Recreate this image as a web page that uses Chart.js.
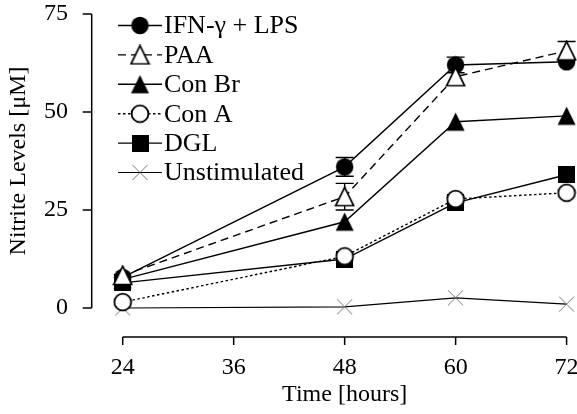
<!DOCTYPE html>
<html><head><meta charset="utf-8">
<script src="https://cdn.jsdelivr.net/npm/chart.js@4"></script>
<style>html,body{margin:0;padding:0;background:#fff;}#wrap{width:577px;height:414px;}</style>
</head><body><div id="wrap"><canvas id="c" width="577" height="414"></canvas></div>
<script>
// ---- data ----
const hours = [24, 48, 60, 72];
const xTicks = [24, 36, 48, 60, 72];
const yTicks = [0, 25, 50, 75];
const seriesNames = ['IFN-\u03b3 + LPS', 'PAA', 'Con Br', 'Con A', 'DGL', 'Unstimulated'];
const ifnLps = [7.8, 36, 62, 62.8];
const ifnLpsErr = [0, 2.4, 2.0, 0];
const paa = [8.3, 28.4, 59, 65.6];
const paaErr = [0, 3.4, 0, 2.4];
const conBr = [7.3, 22, 47.5, 49];
const conA = [1.5, 13.2, 27.8, 29.4];
const dgl = [6.4, 12.5, 26.8, 34];
const unstim = [0, 0.3, 2.6, 1];

const FONT = '"Liberation Serif", "Times New Roman", serif';

// ---- marker images ----
function mk(w, h, draw) { const c = document.createElement('canvas'); c.width = w; c.height = h; const g = c.getContext('2d'); draw(g, w, h); return c; }
const mFilledCircle = mk(19, 19, g => { g.beginPath(); g.arc(9.5, 9.5, 8.7, 0, Math.PI * 2); g.fillStyle = '#000'; g.fill(); });
const mOpenCircle = mk(20, 20, g => { g.beginPath(); g.arc(10, 10, 8.4, 0, Math.PI * 2); g.fillStyle = '#fff'; g.fill(); g.lineWidth = 1.8; g.strokeStyle = '#000'; g.stroke(); });
const mSquare = mk(17, 17, g => { g.fillStyle = '#000'; g.fillRect(0, 0, 17, 17); });
function tri(fill) {
  return mk(21, 21, g => { g.beginPath(); g.moveTo(10.5, 1.2); g.lineTo(1.5, 19.5); g.lineTo(19.5, 19.5); g.closePath();
    if (fill) { g.fillStyle = '#000'; g.fill(); } else { g.fillStyle = '#fff'; g.fill(); g.lineWidth = 1.7; g.strokeStyle = '#000'; g.stroke(); } });
}
const mOpenTri = tri(false), mFilledTri = tri(true);
const mStar = mk(19, 19, g => { g.strokeStyle = '#777'; g.lineWidth = 1; g.beginPath(); g.moveTo(2, 2); g.lineTo(17, 17); g.moveTo(17, 2); g.lineTo(2, 17); g.stroke(); });

function ds(label, data, style, dash, order, bw) {
  return { label, data: hours.map((h, i) => ({ x: h, y: data[i] })), pointStyle: style, pointRadius: 9, borderColor: '#000', backgroundColor: '#000',
    borderWidth: bw || 1.4, borderDash: dash, showLine: true, tension: 0, clip: false, order };
}
const datasets = [
  ds(seriesNames[0], ifnLps, mFilledCircle, [], 1),
  ds(seriesNames[1], paa, mOpenTri, [8, 5], 0),
  ds(seriesNames[2], conBr, mFilledTri, [], 2),
  ds(seriesNames[3], conA, mOpenCircle, [2.5, 2.5], 3),
  ds(seriesNames[4], dgl, mSquare, [], 4),
  ds(seriesNames[5], unstim, mStar, [], 5, 1.2)
];
const errors = { 0: ifnLpsErr, 1: paaErr };

const axesPlugin = {
  id: 'axesLines',
  beforeDatasetsDraw(chart) {
    const { ctx, scales: { x, y } } = chart;
    ctx.save(); ctx.strokeStyle = '#000'; ctx.lineWidth = 1.5;
    const ax = x.getPixelForValue(xTicks[0]) - 31;
    const ay = y.getPixelForValue(yTicks[0]) + 29;
    ctx.beginPath();
    ctx.moveTo(ax, y.getPixelForValue(yTicks[yTicks.length - 1])); ctx.lineTo(ax, y.getPixelForValue(yTicks[0]));
    yTicks.forEach(v => { const p = y.getPixelForValue(v); ctx.moveTo(ax - 9, p); ctx.lineTo(ax, p); });
    ctx.moveTo(x.getPixelForValue(xTicks[0]), ay); ctx.lineTo(x.getPixelForValue(xTicks[xTicks.length - 1]), ay);
    xTicks.forEach(v => { const p = x.getPixelForValue(v); ctx.moveTo(p, ay); ctx.lineTo(p, ay + 8); });
    ctx.stroke();
    // error bars
    ctx.lineWidth = 1.4;
    Object.keys(errors).forEach(k => {
      const src = chart.data.datasets[k].data;
      errors[k].forEach((e, i) => {
        if (!e) return;
        const px = x.getPixelForValue(src[i].x);
        const t = y.getPixelForValue(src[i].y + e), b = y.getPixelForValue(src[i].y - e);
        ctx.beginPath(); ctx.moveTo(px, t); ctx.lineTo(px, b);
        ctx.moveTo(px - 9, t); ctx.lineTo(px + 9, t); ctx.moveTo(px - 9, b); ctx.lineTo(px + 9, b); ctx.stroke();
      });
    });
    ctx.restore();
  }
};

const legendPlugin = {
  id: 'customLegend',
  afterDatasetsDraw(chart) {
    const { ctx } = chart;
    ctx.save();
    chart.data.datasets.forEach((d, i) => {
      const cy = 25.5 + 29.4 * i;
      ctx.strokeStyle = '#000'; ctx.lineWidth = d.borderWidth; ctx.setLineDash(d.borderDash || []);
      ctx.beginPath(); ctx.moveTo(118, cy); ctx.lineTo(162, cy); ctx.stroke();
      ctx.setLineDash([]);
      const im = d.pointStyle; ctx.drawImage(im, 140 - im.width / 2, cy - im.height / 2);
      ctx.fillStyle = '#000'; ctx.font = '26px ' + FONT; ctx.textBaseline = 'middle'; ctx.textAlign = 'left';
      ctx.fillText(d.label, 164, cy + 1);
    });
    ctx.restore();
  }
};

new Chart(document.getElementById('c'), {
  type: 'scatter',
  data: { datasets },
  plugins: [axesPlugin, legendPlugin],
  options: {
    responsive: false, animation: false, devicePixelRatio: 1,
    layout: { padding: { left: 0, right: 9.3, top: 14, bottom: 0 } },
    plugins: { legend: { display: false }, tooltip: { enabled: false } },
    scales: {
      x: {
        type: 'linear', min: xTicks[0], max: xTicks[xTicks.length - 1],
        afterBuildTicks: s => { s.ticks = xTicks.map(v => ({ value: v })); },
        afterFit: s => { s.height = 106; s.paddingLeft = 0; s.paddingRight = 0; },
        grid: { display: false, drawTicks: false }, border: { display: false },
        ticks: { font: { family: FONT, size: 24 }, color: '#000', padding: 45, maxRotation: 0, autoSkip: false },
        title: { display: true, text: 'Time [hours]', color: '#000', font: { family: FONT, size: 24 }, padding: { top: 0, bottom: 5 } }
      },
      y: {
        type: 'linear', min: yTicks[0], max: yTicks[yTicks.length - 1],
        afterBuildTicks: s => { s.ticks = yTicks.map(v => ({ value: v })); },
        afterFit: s => { s.width = 122.7; s.paddingTop = 0; s.paddingBottom = 0; },
        grid: { display: false, drawTicks: false }, border: { display: false },
        ticks: { font: { family: FONT, size: 24 }, color: '#000', padding: 54.7 },
        title: { display: true, text: 'Nitrite Levels [\u03bcM]', color: '#000', font: { family: FONT, size: 24 }, padding: { top: 4, bottom: 0 } }
      }
    }
  }
});
</script></body></html>
